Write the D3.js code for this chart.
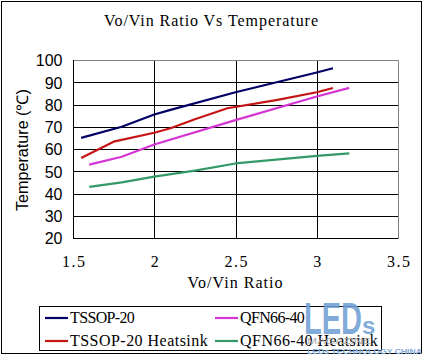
<!DOCTYPE html>
<html><head><meta charset="utf-8">
<script src="https://cdn.jsdelivr.net/npm/d3@7/dist/d3.min.js"></script>
<style>body{margin:0;background:#fff}svg{display:block}</style>
</head><body>
<script>
// ---- data ----
const xTicks = [1.5, 2, 2.5, 3, 3.5];
const xTickLabels = ["1.5", "2", "2.5", "3", "3.5"];
const yTicks = [20, 30, 40, 50, 60, 70, 80, 90, 100];
const seriesNames = ["TSSOP-20", "TSSOP-20 Heatsink", "QFN66-40", "QFN66-40 Heatsink"];
const tssopX = [1.55, 1.8, 2.0, 2.1, 2.5, 3.0, 3.1];
const tssopY = [65, 70, 75.5, 77.6, 85.5, 94.4, 96.3];
const tssopHsX = [1.55, 1.75, 2.0, 2.1, 2.25, 2.45, 2.75, 3.0, 3.1];
const tssopHsY = [56, 63.3, 67.3, 69.3, 73.4, 78.3, 82, 85.5, 87.4];
const qfnX = [1.6, 1.8, 2.0, 2.5, 3.0, 3.2];
const qfnY = [53, 56.5, 62, 73, 83.6, 87.5];
const qfnHsX = [1.6, 1.8, 2.0, 2.25, 2.5, 2.75, 3.0, 3.2];
const qfnHsY = [43, 45, 47.6, 50.3, 53.5, 55.2, 56.9, 58];
const colors = ["#000066", "#c41414", "#d435d4", "#339966"];

const W = 424, H = 357;
const svg = d3.select("body").append("svg").attr("width", W).attr("height", H);
svg.append("rect").attr("x", 1.5).attr("y", 1.5).attr("width", 420).attr("height", 352)
  .attr("fill", "#fff").attr("stroke", "#000").attr("stroke-width", 1);

const L = 73, R = 398, T = 60, B = 238;
const x = d3.scaleLinear().domain([1.5, 3.5]).range([L, R]);
const y = d3.scaleLinear().domain([20, 100]).range([B, T]);

const mono = "'Liberation Serif', 'DejaVu Serif', serif";
const narrow = "'Liberation Sans Narrow', 'Liberation Sans', Arial, sans-serif";

// title
svg.append("text").attr("x", 211).attr("y", 26).attr("text-anchor", "middle")
  .attr("font-family", mono).attr("font-size", 16)
  .attr("textLength", 214).attr("lengthAdjust", "spacing")
  .text("Vo/Vin Ratio Vs Temperature");

// gridlines
const g = svg.append("g");
g.selectAll("line.h").data(yTicks.slice(1, -1)).join("line")
  .attr("x1", L).attr("x2", R).attr("y1", d => Math.round(y(d)) + 0.5).attr("y2", d => Math.round(y(d)) + 0.5)
  .attr("stroke", "#000").attr("stroke-width", 1);
g.selectAll("line.v").data(xTicks.slice(1, -1)).join("line")
  .attr("y1", T).attr("y2", B).attr("x1", d => Math.round(x(d)) + 0.5).attr("x2", d => Math.round(x(d)) + 0.5)
  .attr("stroke", "#000").attr("stroke-width", 1);
g.append("path").attr("d", `M${L},${T + 0.5}H${R + 0.5}V${B}`).attr("fill", "none").attr("stroke", "#808080");

const xAxis = d3.axisBottom(x).tickValues(xTicks).tickFormat((d, i) => xTickLabels[i]).tickSize(0).tickPadding(0);
const gx = svg.append("g").attr("transform", `translate(0,${B + 0.5})`).call(xAxis);
gx.select(".domain").attr("stroke", "#000").attr("d", `M${L},0H${R + 0.5}`);
gx.selectAll("text").attr("font-family", mono).attr("font-size", 16).attr("fill", "#000")
  .attr("dy", null).attr("y", 28).attr("textLength", d => String(d).length * 7.6).attr("lengthAdjust", "spacing");

const yAxis = d3.axisLeft(y).tickValues(yTicks).tickSize(0).tickPadding(0);
const gy = svg.append("g").attr("transform", `translate(${L + 0.5},0)`).call(yAxis);
gy.select(".domain").attr("stroke", "#000").attr("d", `M0,${T}V${B + 0.5}`);
gy.selectAll("text").attr("font-family", narrow).attr("font-size", 16).attr("fill", "#000")
  .attr("x", -11).attr("dy", "0.36em");

svg.append("text").attr("x", 235).attr("y", 288).attr("text-anchor", "middle")
  .attr("font-family", mono).attr("font-size", 16)
  .attr("textLength", 95).attr("lengthAdjust", "spacing").text("Vo/Vin Ratio");
svg.append("text").attr("transform", "translate(28,150) rotate(-90)").attr("text-anchor", "middle")
  .attr("font-family", narrow).attr("font-size", 16)
  .attr("textLength", 122).attr("lengthAdjust", "spacingAndGlyphs").text("Temperature (℃)");

const series = [
  tssopX.map((v, i) => [v, tssopY[i]]),
  tssopHsX.map((v, i) => [v, tssopHsY[i]]),
  qfnX.map((v, i) => [v, qfnY[i]]),
  qfnHsX.map((v, i) => [v, qfnHsY[i]])
];
const line = d3.line().x(d => x(d[0])).y(d => y(d[1]));
svg.append("g").selectAll("path").data(series).join("path")
  .attr("d", line).attr("fill", "none").attr("stroke", (d, i) => colors[i])
  .attr("stroke-width", 2.2).attr("stroke-linejoin", "round");

const lg = svg.append("g");
lg.append("rect").attr("x", 39.5).attr("y", 306.5).attr("width", 342).attr("height", 44)
  .attr("fill", "#fff").attr("stroke", "#000");
const legPos = [[45, 318], [45, 341], [215, 318], [215, 341]];
seriesNames.forEach((n, i) => {
  const [lx, ly] = legPos[i];
  lg.append("line").attr("x1", lx).attr("x2", lx + 23).attr("y1", ly).attr("y2", ly)
    .attr("stroke", colors[i]).attr("stroke-width", 2.2);
  lg.append("text").attr("x", lx + 25).attr("y", ly + 5).attr("font-family", mono).attr("font-size", 16)
    .attr("textLength", n.length * 8.1).attr("lengthAdjust", "spacing").text(n);
});

const wm = svg.append("g");
wm.append("text").attr("x", 304).attr("y", 334).attr("font-family", "'Liberation Sans', Arial, sans-serif")
  .attr("font-weight", "bold").attr("font-size", 44).attr("fill", "#6f9fd3").attr("fill-opacity", 0.9)
  .attr("textLength", 58).attr("lengthAdjust", "spacingAndGlyphs").text("LED");
wm.append("text").attr("x", 362).attr("y", 334).attr("font-family", "'Liberation Sans', Arial, sans-serif")
  .attr("font-weight", "bold").attr("font-size", 24).attr("fill", "#6f9fd3").attr("fill-opacity", 0.9).text("s");
wm.append("text").attr("x", 307).attr("y", 344).attr("font-family", "'Liberation Sans', Arial, sans-serif")
  .attr("font-size", 9).attr("fill", "#b0b0b0").attr("textLength", 64).attr("lengthAdjust", "spacingAndGlyphs").text("MAGAZINE");
wm.append("text").attr("x", 307).attr("y", 354).attr("font-family", "'Liberation Sans', Arial, sans-serif")
  .attr("font-weight", "bold").attr("font-size", 8).attr("fill", "#7fa8d6").attr("textLength", 115).attr("lengthAdjust", "spacingAndGlyphs").text("LEDs TECHNOLOGY CHINA");
</script>
</body></html>
